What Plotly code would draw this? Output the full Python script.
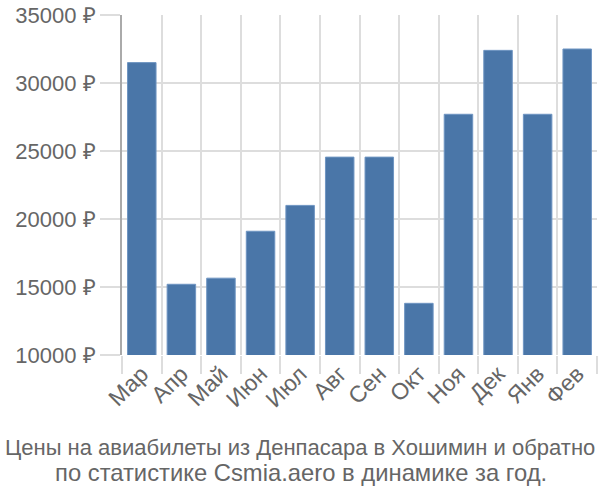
import plotly.graph_objects as go

months = ["Мар", "Апр", "Май", "Июн", "Июл", "Авг", "Сен", "Окт", "Ноя", "Дек", "Янв", "Фев"]
prices = [31500, 15200, 15650, 19100, 21000, 24550, 24550, 13800, 27700, 32400, 27700, 32500]
yticks = [10000, 15000, 20000, 25000, 30000, 35000]
ytext = [f"{v} ₽" for v in yticks]
title_lines = ["Цены на авиабилеты из Денпасара в Хошимин и обратно",
               "по статистике Csmia.aero в динамике за год."]

fig = go.Figure(go.Bar(
    x=months, y=prices, width=0.72,
    marker=dict(color="#4a76a8", line=dict(color="#6f95c2", width=1)),
))

fig.update_layout(
    width=600, height=500,
    margin=dict(l=122, r=3, t=15, b=145),
    plot_bgcolor="white", paper_bgcolor="white",
    font=dict(family="Liberation Sans, Arial, sans-serif", color="#666666"),
    showlegend=False,
    bargap=0.28,
)
fig.update_xaxes(
    tickson="boundaries", showgrid=True, gridcolor="#dddddd", gridwidth=1.5,
    ticks="outside", ticklen=18, tickcolor="#dddddd", tickwidth=1.5,
    tickangle=-45, tickfont=dict(size=23, color="#666666"),
    showline=False, zeroline=False,
)
fig.update_yaxes(
    range=[10000, 35000], tickvals=yticks, ticktext=ytext,
    showgrid=True, gridcolor="#dddddd", gridwidth=1.5,
    ticks="outside", ticklen=20, tickcolor="#dddddd", tickwidth=1.5,
    tickfont=dict(size=22, color="#666666"),
    showline=True, linecolor="#aaaaaa", linewidth=2, zeroline=False,
)
fig.add_annotation(
    text=title_lines[0], xref="paper", yref="paper",
    x=(300 - 122) / 475, y=0, yshift=-92, yanchor="middle", xanchor="center",
    showarrow=False, font=dict(size=22, color="#666666"),
)
fig.add_annotation(
    text=title_lines[1], xref="paper", yref="paper",
    x=(301 - 122) / 475, y=0, yshift=-117, yanchor="middle", xanchor="center",
    showarrow=False, font=dict(size=23.8, color="#666666"),
)

fig.write_html("out.html")
